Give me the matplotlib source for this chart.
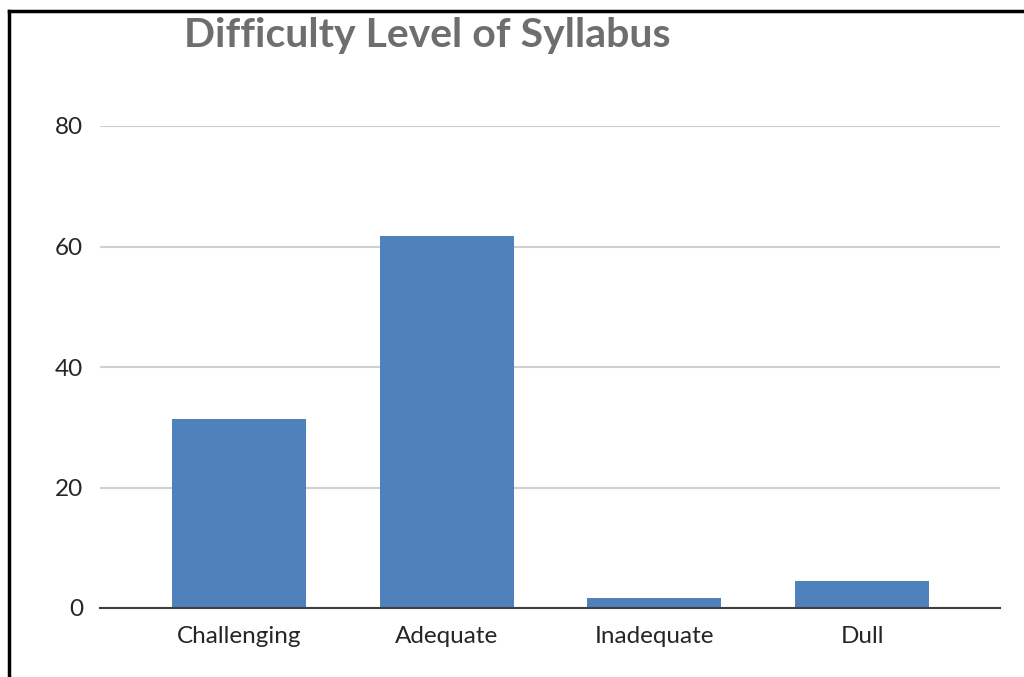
import matplotlib
matplotlib.use("Agg")
import matplotlib.pyplot as plt
from matplotlib.lines import Line2D

categories = ["Challenging", "Adequate", "Inadequate", "Dull"]
values = [31.4, 61.7, 1.6, 4.5]
yticks = [0, 20, 40, 60, 80]
title = "Difficulty Level of Syllabus"

plt.rcParams['font.family'] = ['Lato', 'DejaVu Sans']

W, H = 1024, 677
fig = plt.figure(figsize=(W / 100, H / 100), dpi=100)
ax = fig.add_axes([100 / W, (H - 608) / H, 900 / W, (608 - 126) / H])

x = range(len(categories))
ax.bar(x, values, width=0.645, color="#4F81BD", zorder=3)
ax.set_xlim(-0.669, 3.664)
ax.set_ylim(0, 80)
ax.set_yticks(yticks)
ax.set_xticks(list(x))
ax.set_xticklabels(categories, fontsize=17.5, color="#262626")
ax.tick_params(axis="y", labelsize=17.5, labelcolor="#262626", length=0, pad=12)
ax.tick_params(axis="x", length=0, pad=13)
ax.grid(axis="y", color="#D0D0D0", linewidth=1.5, zorder=0)
for s in ["top", "right", "left"]:
    ax.spines[s].set_visible(False)
ax.spines["bottom"].set_color("#404040")
ax.spines["bottom"].set_linewidth(1.5)
ax.spines["bottom"].set_zorder(4)

fig.text(427 / W, 1 - 35 / H, title, ha="center", va="center",
         fontsize=29.5, fontweight="bold", color="#6E6E6E")

# frame border (left and top)
fig.add_artist(Line2D([9 / W, 9 / W], [0, 1 - 11 / H], transform=fig.transFigure,
                      color="black", linewidth=2.5))
fig.add_artist(Line2D([9 / W, 1], [1 - 11 / H, 1 - 11 / H], transform=fig.transFigure,
                      color="black", linewidth=2.5))

fig.savefig("out.png", dpi=100)
